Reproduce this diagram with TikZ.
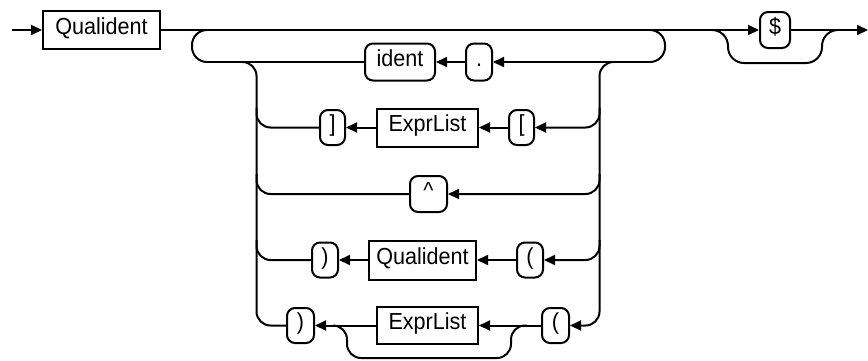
\documentclass[tikz,border=0pt]{standalone}
\usepackage{fontspec}
\setmainfont{Liberation Sans}[FakeStretch=0.93]
\usetikzlibrary{arrows.meta}
\begin{document}
\begin{tikzpicture}[x=0.5pt,y=-0.5pt,line width=1pt,
  every node/.style={font=\fontsize{11.6pt}{14pt}\selectfont, inner sep=0pt, text height=8.3pt, text depth=4.3pt},
  nterm/.style={draw, rectangle},
  term/.style={draw, rectangle, rounded corners=4pt},
  flow/.style={-{Triangle[length=5.5pt,width=5pt]}},
  turncorner/.style={rounded corners=7pt},
  loopcorner/.style={rounded corners=7.5pt},
  skipcorner/.style={rounded corners=8pt}]
\useasboundingbox (0,0) rectangle (868,360);
% main line
\coordinate (S) at (12,30);
\node[nterm, minimum width=58.5pt, minimum height=19pt] (Q1) at (101.5,30) {Qualident};
\node[term, minimum width=15pt, minimum height=18pt] (dol) at (775,30) {\$};
\coordinate (E) at (868,30);
\coordinate (LA) at (207,30);
\coordinate (RA) at (650,30);
\coordinate (DJ1) at (712,30);
\coordinate (DJ2) at (838,30);
% row 1
\coordinate (LA1) at (207,62);
\coordinate (RA1) at (650,62);
\coordinate (LV1) at (242,62);
\coordinate (RV1) at (614,62);
\node[term, minimum width=35pt, minimum height=18.5pt] (ident) at (400,62) {ident};
\node[term, minimum width=13pt, minimum height=18.5pt] (dot) at (479,62) {.};
% row 2
\node[term, minimum width=12.5pt, minimum height=17.5pt] (rb2) at (332.5,127.5) {]};
\node[nterm, minimum width=50.5pt, minimum height=19pt] (el2) at (427.5,127.5) {ExprList};
\node[term, minimum width=12.5pt, minimum height=17.5pt] (lb2) at (521.5,127.5) {[};
\coordinate (LV2) at (256.5,107.5);
\coordinate (RV2) at (599.5,107.5);
% row 3
\node[term, minimum width=18.5pt, minimum height=18pt] (caret) at (428.5,194) {\textasciicircum};
\coordinate (LV3) at (256.5,174);
\coordinate (RV3) at (599.5,174);
% row 4
\node[term, minimum width=13pt, minimum height=17.5pt] (rp4) at (325,260) {)};
\node[nterm, minimum width=53.5pt, minimum height=19.5pt] (q4) at (422.5,260) {Qualident};
\node[term, minimum width=13pt, minimum height=17.5pt] (lp4) at (530,260) {(};
\coordinate (LV4) at (256.5,240);
\coordinate (RV4) at (599.5,240);
% row 5
\node[term, minimum width=13.5pt, minimum height=17.5pt] (rp5) at (300.5,325.5) {)};
\node[nterm, minimum width=50.5pt, minimum height=18.5pt] (el5) at (427.5,325.5) {ExprList};
\node[term, minimum width=13.5pt, minimum height=17.5pt] (lp5) at (555.5,325.5) {(};
\coordinate (BJ1) at (333,325.5);
\coordinate (BJ2) at (527,325.5);

% connectors: main line
\draw[flow] (S) -- (Q1);
\draw[flow] (Q1) -- (dol);
\draw[flow] (dol) -- (E);
\draw[skipcorner] (DJ1) -- (728,30) -- (728,63) -- (822,63) -- (822,30) -- (DJ2);
% loop arcs
\draw[loopcorner] (LA1) -- (192,62) -- (192,30) -- (LA);
\draw[loopcorner] (RA) -- (665,30) -- (665,62) -- (RA1);
% row 1
\draw[flow] (RA1) -- (dot);
\draw[flow] (dot) -- (ident);
\draw (ident) -- (LA1);
% verticals
\draw[flow,turncorner] (RV1) -- (599.5,62) -- (599.5,325.5) -- (lp5);
\draw[turncorner] (LV1) -- (256.5,62) -- (256.5,325.5) -- (rp5);
% row 2
\draw[flow,turncorner] (RV2) |- (lb2);
\draw[flow] (lb2) -- (el2);
\draw[flow] (el2) -- (rb2);
\draw[turncorner] (rb2) -| (LV2);
% row 3
\draw[flow,turncorner] (RV3) |- (caret);
\draw[turncorner] (caret) -| (LV3);
% row 4
\draw[flow,turncorner] (RV4) |- (lp4);
\draw[flow] (lp4) -- (q4);
\draw[flow] (q4) -- (rp4);
\draw[turncorner] (rp4) -| (LV4);
% row 5
\draw[flow] (lp5) -- (el5);
\draw[flow] (el5) -- (rp5);
\draw[turncorner] (BJ2) -- (511,325.5) -- (511,358) -- (347,358) -- (347,325.5) -- (BJ1);
\end{tikzpicture}
\end{document}
